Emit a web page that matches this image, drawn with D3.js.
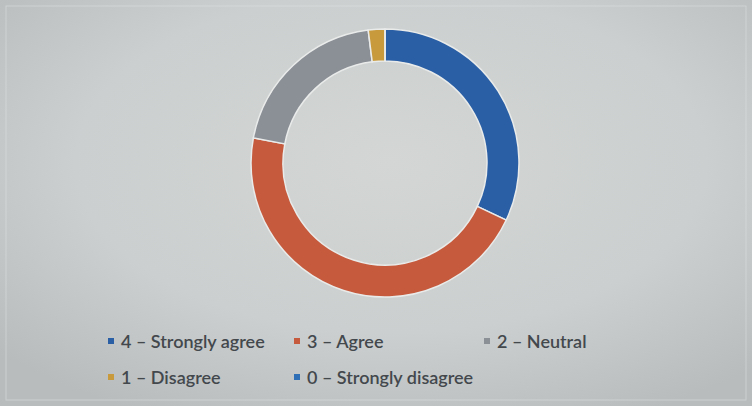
<!DOCTYPE html>
<html>
<head>
<meta charset="utf-8">
<script src="https://cdn.jsdelivr.net/npm/d3@7"></script>
<style>
  html, body { margin: 0; padding: 0; background: #c9cccb; }
  svg { display: block; }
</style>
</head>
<body>
<svg id="chart" width="752" height="406"></svg>
<script>
const categories = ["4 – Strongly agree", "3 – Agree", "2 – Neutral", "1 – Disagree", "0 – Strongly disagree"];
const values = [16, 23, 10, 1, 0];
const colors = ["#2a5fa6", "#c65a3c", "#8b8f96", "#c99a3c", "#2f6fb6"];

const svg = d3.select("#chart");
const W = 752, H = 406;

const defs = svg.append("defs");
const grad = defs.append("radialGradient").attr("id", "bg")
  .attr("cx", "52%").attr("cy", "40%").attr("r", "70%");
grad.append("stop").attr("offset", "0%").attr("stop-color", "#d3d6d4");
grad.append("stop").attr("offset", "60%").attr("stop-color", "#cbcfcf");
grad.append("stop").attr("offset", "100%").attr("stop-color", "#b8bcbd");
svg.append("rect").attr("width", W).attr("height", H).attr("fill", "url(#bg)");
svg.append("rect").attr("x", 6).attr("y", 6).attr("width", W - 12).attr("height", H - 12)
  .attr("fill", "none").attr("stroke", "#e2e4e3").attr("stroke-opacity", 0.5).attr("stroke-width", 1);

const cx = 385, cy = 163, rOuter = 134, rInner = 102;
const pie = d3.pie().sort(null).value(d => d)(values);
const arc = d3.arc().innerRadius(rInner).outerRadius(rOuter);

const g = svg.append("g").attr("transform", `translate(${cx},${cy})`);
g.selectAll("path").data(pie).join("path")
  .attr("d", arc)
  .attr("fill", (d, i) => colors[i])
  .attr("stroke", "#e9ebea")
  .attr("stroke-width", 1.5);

const legendPos = [
  [111, 341], [297, 341], [487, 341],
  [111, 377], [297, 377]
];
const leg = svg.append("g");
categories.forEach((c, i) => {
  const [x, y] = legendPos[i];
  leg.append("rect").attr("x", x - 3).attr("y", y - 3).attr("width", 6).attr("height", 6)
    .attr("fill", colors[i]);
  leg.append("text").attr("x", x + 10).attr("y", y + 6.5)
    .attr("font-family", "Lato, 'Open Sans', sans-serif")
    .attr("font-size", 18)
    .attr("font-weight", 600)
    .attr("fill", "#43484d")
    .text(c);
});
</script>
</body>
</html>
